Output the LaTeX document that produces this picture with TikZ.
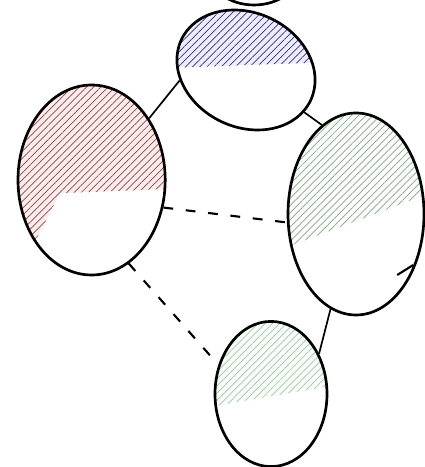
\documentclass[tikz,border=0pt]{standalone}
\usepackage{tikz}
\usetikzlibrary{shapes.geometric,patterns.meta}
\tikzset{
  blob/.style={ellipse,draw,line width=1.9pt,inner sep=0pt,fill=white},
  link/.style={line width=1.2pt},
  weak/.style={line width=1.5pt,dash pattern=on 7pt off 9pt},
  % part of a blob hatched: fill colour, line colour, region round the centre
  halfhatch/.style n args={3}{path picture={
    \begin{scope}[shift={(path picture bounding box.center)}]
      \fill[#1] #3;
      \fill[pattern={Lines[angle=45,distance=3.6pt,line width=0.5pt]},pattern color=#2] #3;
    \end{scope}}}
}

\begin{document}
\begin{tikzpicture}
\useasboundingbox (0,0) rectangle (10.6,11.675);
% ---------- cut-off shape at the top ----------
\begin{scope}
\clip (0,0) rectangle (10.6,11.675);
\draw[line width=1.9pt] (6.35,12.43) ellipse (1.15 and 0.88);
\end{scope}
% ---------- blobs ----------
% top blob is turned, so its region is given in its own frame
\node[blob,minimum width=3.57cm,minimum height=2.86cm,rotate=-25,
  halfhatch={blue!7}{blue!35!black!80}{(-2.01,-0.89) -- (1.91,1.11) -- (1.15,2.74) -- (-2.84,0.88) -- cycle}]
  (top) at (6.15,9.925) {};
\node[blob,minimum width=3.68cm,minimum height=4.75cm,
  halfhatch={red!8}{red!30!black!70}{(2.5,-0.2) -- (-0.79,-0.33) -- (-1.6,-1.9) -- (-2.5,-1.9) -- (-2.5,3) -- (2.5,3) -- cycle}]
  (left) at (2.29,7.175) {};
\node[blob,minimum width=3.4cm,minimum height=5.05cm,
  halfhatch={green!3}{black!40}{(-2,-0.93) -- (2,0.58) -- (2,3) -- (-2,3) -- cycle}]
  (right) at (8.9,6.325) {};
\node[blob,minimum width=2.8cm,minimum height=3.63cm,
  halfhatch={green!4}{black!28}{(-2,-0.4) -- (2,0.29) -- (2,3) -- (-2,3) -- cycle}]
  (bottom) at (6.775,1.825) {};
% ---------- connections ----------
\draw[link] (left.47) -- (top.214);
\draw[link] (top.349) -- (right.111);
\draw[link] (right.255) -- (bottom.40);
\draw[weak] (left.339) -- (right.187);
\draw[weak,shorten >=8pt] (left.294) -- (bottom.151);
% small barb on the right blob
\draw[line width=1.5pt] (9.93,4.8) -- (10.33,5.05);
\end{tikzpicture}
\end{document}
